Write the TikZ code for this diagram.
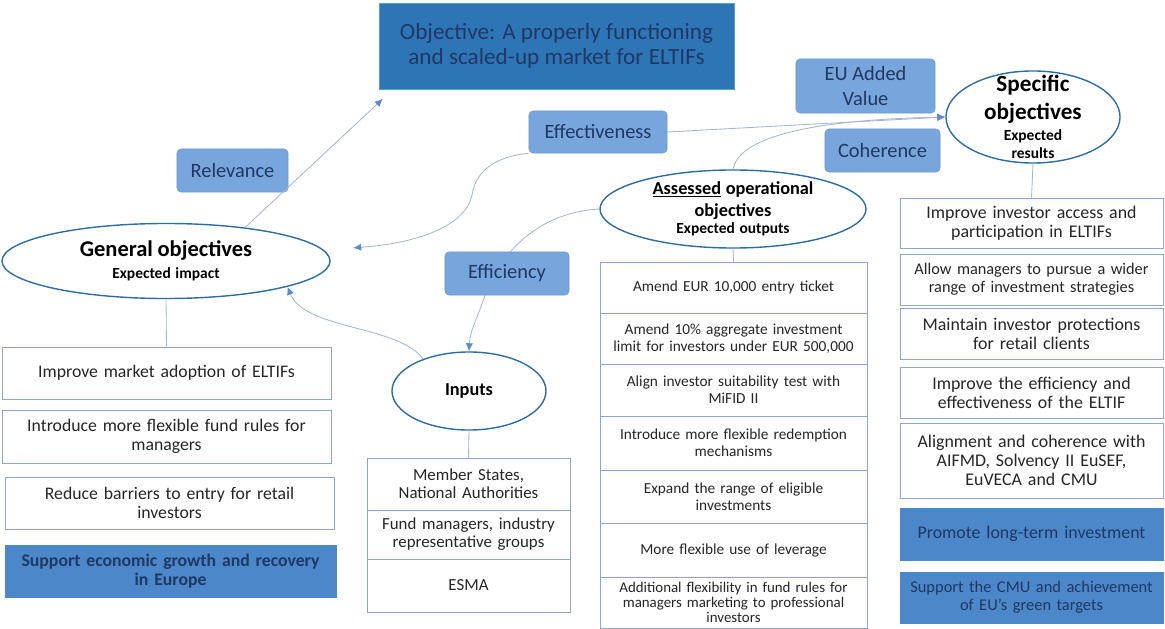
\documentclass[tikz,border=0pt]{standalone}
\usepackage{fontspec}
\setmainfont{Carlito}
\usetikzlibrary{arrows.meta}
\usetikzlibrary{shapes.geometric}
\definecolor{titlefill}{HTML}{2E75B6}
\definecolor{titleline}{HTML}{4FA6B8}
\definecolor{navytext}{HTML}{1F3864}
\definecolor{bodytext}{HTML}{262626}
\definecolor{critfill}{HTML}{78A5DB}
\definecolor{critline}{HTML}{6A98D0}
\definecolor{darkfill}{HTML}{4B87C9}
\definecolor{ovalline}{HTML}{2E6DA4}
\definecolor{cellline}{HTML}{8EA6CF}
\definecolor{linkcol}{HTML}{A3B6D3}
\definecolor{tipcol}{HTML}{5B8BD0}
\tikzset{crit/.style={draw=critline,fill=critfill,rounded corners=0.1cm,text=navytext,
    align=center,inner sep=0pt,font=\fontsize{14.5}{17.5}\selectfont}}
\tikzset{oval/.style={ellipse,draw=ovalline,line width=1pt,fill=white,inner sep=-2cm,align=center}}
\tikzset{cell/.style 2 args={draw=cellline,fill=white,inner sep=0pt,minimum width=#1,
    text width=#1,minimum height=#2,align=center,text=bodytext}}
\tikzset{darkcell/.style 2 args={cell={#1}{#2},fill=darkfill,draw=darkfill,text=navytext}}
\tikzset{link/.style={draw=linkcol,line width=0.6pt}}
\tikzset{arr/.style={link,-{Latex[length=2mm,width=1.8mm,color=tipcol]}}}

\begin{document}
\begin{tikzpicture}[x=0.025cm,y=-0.025cm]
\useasboundingbox (0,0) rectangle (1165,629);

\node[draw=titleline,fill=titlefill,text=navytext,minimum width=8.875cm,minimum height=2.15cm,
    align=center,font=\fontsize{16.5}{18}\selectfont] (title) at (556.5,46)
    {Objective: A properly functioning\\and scaled-up market for ELTIFs};

\node[crit,minimum width=2.775cm,minimum height=1.075cm] (relev) at (232.5,170.5) {Relevance};
\node[crit,minimum width=3.45cm,minimum height=1.05cm] (effect) at (598,132) {Effectiveness};
\node[crit,minimum width=3.475cm,minimum height=1.35cm] (added) at (865.5,86) {EU Added\\Value};
\node[crit,minimum width=2.875cm,minimum height=1.075cm] (coher) at (882.5,150.5) {Coherence};

\node[oval,minimum width=8.2cm,minimum height=1.875cm,text width=5.5cm] (gen) at (166,261)
    {{\fontsize{16}{17}\selectfont\bfseries General objectives\par}
     {\fontsize{11}{16}\selectfont\bfseries Expected impact\par}};
\node[oval,minimum width=4.35cm,minimum height=2.3cm,text width=3.2cm] (spec) at (1033,117)
    {{\fontsize{16.5}{19.5}\selectfont\bfseries Specific\\objectives\par}\vspace{2pt}
     {\fontsize{11}{13}\selectfont\bfseries Expected\\results\par}};
\node[oval,minimum width=6.65cm,minimum height=1.95cm,text width=5cm] (ops) at (733,209)
    {{\fontsize{13}{15.5}\selectfont\bfseries\underline{Assessed} operational\\objectives\par}
     {\fontsize{11}{12.5}\selectfont\bfseries Expected outputs\par}};
\node[oval,minimum width=3.85cm,minimum height=1.95cm,text width=2.5cm] (inp) at (469,391)
    {\fontsize{13}{15}\selectfont\bfseries Inputs};

\begin{scope}[font=\fontsize{12.6}{13.8}\selectfont]
\node[cell={8.225cm}{1.3cm}] (g1) at (166.5,373) {Improve market adoption of ELTIFs};
\node[cell={8.225cm}{1.325cm}] (g2) at (166.5,436.5) {Introduce more flexible fund rules for\\managers};
\node[cell={8.225cm}{1.3cm}] (g3) at (169.5,503) {Reduce barriers to entry for retail\\investors};
\node[darkcell={8.275cm}{1.3cm},font=\fontsize{12.6}{13.8}\selectfont\bfseries] (g4) at (170.5,571)
    {Support economic growth and recovery\\in Europe};
\end{scope}

\begin{scope}[font=\fontsize{12}{12.8}\selectfont]
\node[cell={5.075cm}{1.3cm}] (i1) at (468.5,484) {Member States,\\National Authorities};
\node[cell={5.075cm}{1.225cm}] (i2) at (468.5,534.5) {Fund managers, industry\\representative groups};
\node[cell={5.075cm}{1.325cm}] (i3) at (468.5,585.5) {ESMA};
\end{scope}

\begin{scope}[font=\fontsize{10.9}{12}\selectfont]
\node[cell={6.675cm}{1.275cm}] (o1) at (733.5,287.5) {Amend EUR 10,000 entry ticket};
\node[cell={6.675cm}{1.275cm}] (o2) at (733.5,338.5) {Amend 10\% aggregate investment\\limit for investors under EUR 500,000};
\node[cell={6.675cm}{1.3cm}] (o3) at (733.5,390) {Align investor suitability test with\\MiFID II};
\node[cell={6.675cm}{1.35cm}] (o4) at (733.5,443) {Introduce more flexible redemption\\mechanisms};
\node[cell={6.675cm}{1.325cm}] (o5) at (733.5,496.5) {Expand the range of eligible\\investments};
\node[cell={6.675cm}{1.35cm}] (o6) at (733.5,550) {More flexible use of leverage};
\node[cell={6.675cm}{1.275cm},font=\fontsize{10.6}{10.8}\selectfont] (o7) at (733.5,602.5)
    {Additional flexibility in fund rules for\\managers marketing to professional\\investors};
\end{scope}

\begin{scope}[font=\fontsize{12.7}{13.5}\selectfont]
\node[cell={6.575cm}{1.25cm}] (r1) at (1031.5,223) {Improve investor access and\\participation in ELTIFs};
\node[cell={6.575cm}{1.275cm},font=\fontsize{11.6}{13}\selectfont] (r2) at (1031.5,279.5)
    {Allow managers to pursue a wider\\range of investment strategies};
\node[cell={6.575cm}{1.275cm}] (r3) at (1031.5,333.5) {Maintain investor protections\\for retail clients};
\node[cell={6.575cm}{1.275cm}] (r4) at (1031.5,392.5) {Improve the efficiency and\\effectiveness of the ELTIF};
\node[cell={6.575cm}{1.875cm}] (r5) at (1031.5,460.5) {Alignment and coherence with\\AIFMD, Solvency II EuSEF,\\EuVECA and CMU};
\node[darkcell={6.575cm}{1.3cm}] (r6) at (1031.5,534) {Promote long-term investment};
\node[darkcell={6.575cm}{1.275cm},font=\fontsize{11.7}{13}\selectfont] (r7) at (1031.5,597.5)
    {Support the CMU and achievement\\of EU’s green targets};
\end{scope}

\draw[link] (gen.south) -- (g1.north);
\draw[link] (inp.south) -- (i1.north);
\draw[link] (ops.south) -- (o1.north);
\draw[link] (spec.south) -- (r1.north);

\draw[arr,shorten >=0.35cm] (gen.23) -- ([xshift=0.36cm]title.south west);
\draw[arr,shorten >=0.74cm] (effect.south west) .. controls (500,156) and (476,168) .. (472,195)
    .. controls (466,225) and (420,243) .. (gen.4);
\draw[arr] (effect.east) -- (spec.west);
\draw[arr] (ops.north) .. controls (738,140) and (800,120) .. (spec.west);
\draw[arr] (ops.west) .. controls (545,212) and (505,245) .. (486,292)
    .. controls (478,318) and (470,330) .. (inp.north);
\draw[arr] (inp.145) .. controls (398,325) and (305,330) .. (gen.-12);

\node[crit,minimum width=3.1cm,minimum height=1.075cm] (effic) at (507,273.5) {Efficiency};
\end{tikzpicture}
\end{document}
